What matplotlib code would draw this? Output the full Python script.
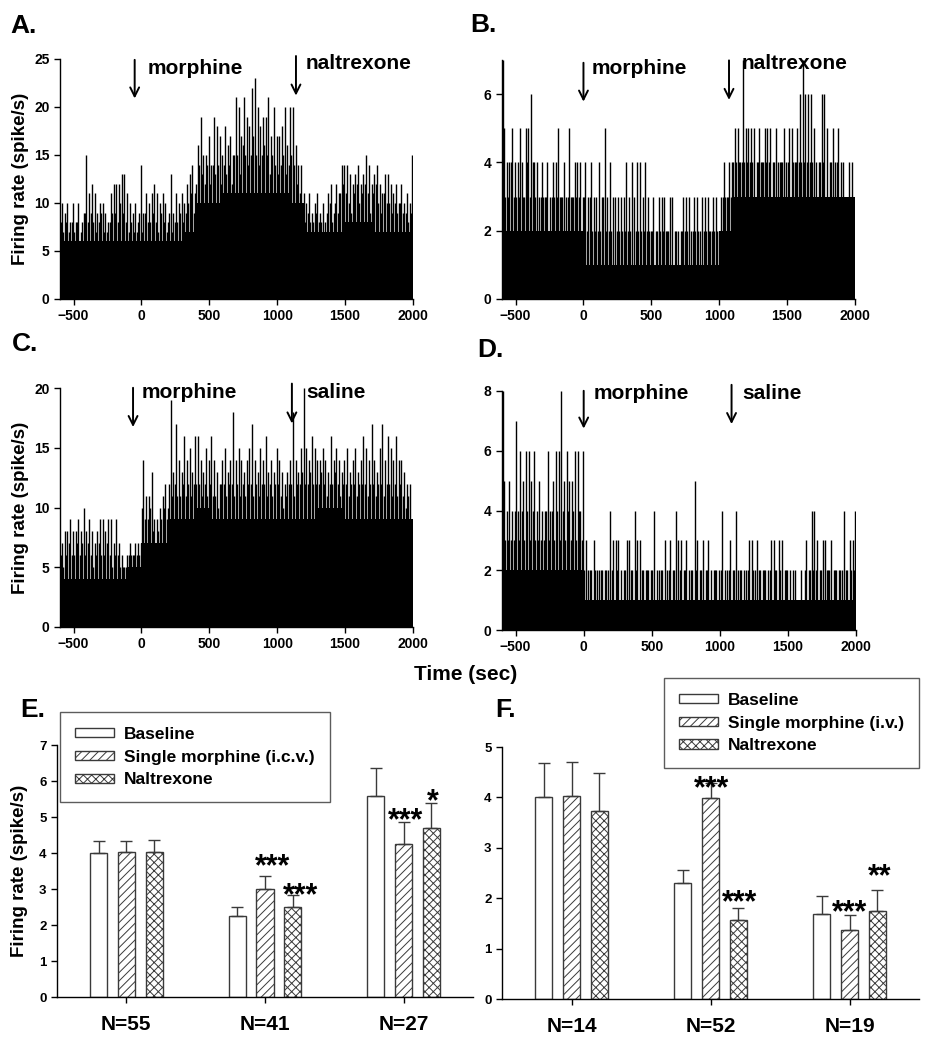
import matplotlib
matplotlib.use("Agg")
import matplotlib.pyplot as plt
import numpy as np

plt.rcParams['font.family'] = ['Liberation Sans', 'DejaVu Sans']
plt.rcParams['font.weight'] = 'bold'
plt.rcParams['axes.labelweight'] = 'bold'
plt.rcParams['hatch.linewidth'] = 0.7

# ---- histogram data (spike/s), -600..2000 s ----
edges = np.arange(-600, 2001, 100)       # 100 s blocks: solid (dense) level
t10 = np.arange(-600, 2000, 10) + 5      # 10 s bins: upper envelope

floor_A = [6, 6, 6, 6, 6, 6, 6, 6, 6, 7, 10, 10, 11, 11, 11, 11, 11, 10, 7, 7, 7, 8, 8, 7, 7, 7]
rate_A = [
    8, 10, 7, 9, 8, 10, 7, 8, 8, 10,
    7, 8, 8, 10, 6, 7, 8, 9, 9, 15,
    8, 11, 9, 12, 8, 11, 7, 9, 8, 10,
    9, 10, 7, 9, 7, 8, 8, 11, 9, 12,
    9, 12, 8, 12, 10, 13, 9, 13, 8, 11,
    7, 10, 8, 9, 7, 10, 7, 8, 9, 14,
    7, 9, 9, 11, 8, 10, 8, 11, 9, 12,
    8, 11, 7, 10, 9, 11, 8, 10, 7, 8,
    9, 13, 7, 9, 8, 11, 8, 10, 9, 11,
    8, 10, 9, 12, 10, 13, 11, 14, 9, 11,
    12, 16, 14, 19, 13, 15, 12, 15, 14, 17,
    12, 14, 14, 19, 13, 18, 14, 17, 12, 15,
    14, 18, 13, 16, 14, 17, 12, 15, 15, 21,
    15, 20, 13, 17, 16, 21, 15, 19, 14, 18,
    15, 22, 17, 23, 15, 20, 14, 18, 15, 19,
    16, 19, 15, 21, 13, 17, 15, 20, 14, 17,
    13, 17, 14, 18, 15, 20, 13, 16, 14, 20,
    15, 20, 14, 16, 12, 14, 11, 14, 9, 11,
    8, 10, 9, 11, 8, 9, 8, 10, 9, 11,
    8, 9, 8, 10, 7, 8, 9, 11, 10, 12,
    8, 9, 10, 12, 9, 11, 11, 14, 12, 14,
    11, 14, 10, 13, 9, 12, 11, 13, 12, 14,
    10, 12, 11, 13, 12, 15, 11, 14, 9, 12,
    11, 13, 12, 14, 10, 12, 9, 11, 11, 13,
    10, 13, 10, 12, 9, 11, 10, 12, 9, 10,
    10, 12, 9, 10, 9, 11, 8, 10, 9, 15]

floor_B = [2, 2, 2, 2, 2, 2, 1, 1, 1, 1, 1, 1, 1, 1, 1, 1, 2, 3, 3, 3, 3, 3, 3, 3, 3, 3]
rate_B = [
    7, 5, 3, 4, 3, 4, 4, 5, 3, 4,
    3, 4, 3, 5, 4, 3, 3, 5, 4, 5,
    3, 6, 4, 4, 3, 4, 2, 3, 3, 4,
    3, 3, 3, 4, 2, 3, 3, 4, 3, 4,
    3, 5, 3, 3, 3, 4, 2, 3, 3, 5,
    3, 3, 3, 4, 3, 4, 3, 4, 2, 3,
    3, 4, 2, 3, 3, 4, 2, 3, 2, 3,
    2, 4, 2, 3, 3, 5, 2, 3, 2, 4,
    2, 3, 1, 3, 2, 3, 2, 3, 2, 3,
    2, 4, 2, 3, 2, 4, 1, 3, 2, 4,
    2, 4, 2, 3, 2, 4, 2, 3, 2, 2,
    2, 3, 1, 2, 2, 3, 2, 3, 2, 3,
    2, 2, 2, 3, 1, 3, 1, 2, 2, 2,
    1, 2, 2, 3, 2, 3, 2, 3, 1, 2,
    2, 3, 2, 3, 2, 2, 1, 3, 2, 3,
    2, 3, 2, 2, 2, 3, 2, 3, 2, 2,
    2, 3, 3, 4, 3, 3, 3, 4, 3, 4,
    4, 5, 4, 5, 4, 4, 4, 7, 4, 5,
    4, 5, 4, 5, 4, 5, 3, 4, 4, 5,
    4, 4, 4, 5, 4, 5, 4, 5, 3, 4,
    4, 5, 3, 4, 4, 4, 4, 5, 3, 4,
    4, 5, 3, 5, 4, 4, 4, 5, 4, 6,
    4, 7, 4, 6, 4, 6, 4, 6, 4, 5,
    3, 4, 3, 4, 4, 6, 4, 6, 3, 5,
    3, 4, 4, 5, 3, 4, 4, 5, 3, 4,
    3, 4, 3, 3, 3, 4, 3, 4, 2, 2]

floor_C = [4, 4, 4, 4, 4, 5, 7, 7, 9, 9, 10, 9, 9, 9, 9, 9, 9, 9, 9, 10, 10, 9, 9, 9, 9, 9]
rate_C = [
    6, 7, 5, 8, 6, 8, 7, 9, 6, 8,
    6, 8, 7, 9, 6, 8, 7, 10, 6, 8,
    7, 9, 6, 8, 5, 7, 6, 8, 7, 9,
    6, 9, 6, 8, 7, 9, 6, 9, 5, 7,
    6, 9, 6, 7, 5, 6, 5, 5, 5, 6,
    6, 7, 6, 6, 6, 7, 6, 7, 6, 7,
    10, 14, 9, 11, 9, 11, 10, 13, 8, 9,
    7, 9, 8, 10, 9, 11, 10, 12, 9, 10,
    12, 19, 11, 13, 12, 17, 11, 14, 11, 13,
    12, 16, 11, 14, 12, 15, 11, 13, 12, 16,
    12, 16, 12, 14, 11, 13, 12, 15, 11, 14,
    12, 16, 11, 14, 11, 13, 10, 12, 12, 14,
    12, 15, 11, 13, 12, 14, 12, 18, 11, 14,
    12, 15, 11, 14, 12, 13, 11, 14, 12, 15,
    12, 17, 11, 14, 12, 13, 11, 15, 12, 14,
    12, 16, 11, 13, 12, 14, 11, 13, 12, 15,
    12, 14, 11, 13, 10, 12, 11, 13, 12, 14,
    12, 18, 11, 14, 12, 13, 12, 15, 13, 20,
    12, 15, 12, 14, 13, 16, 12, 15, 12, 14,
    12, 14, 13, 15, 12, 14, 11, 13, 12, 16,
    12, 14, 13, 15, 12, 14, 11, 13, 12, 14,
    12, 15, 11, 13, 12, 14, 12, 15, 11, 13,
    12, 14, 12, 16, 12, 15, 11, 14, 12, 17,
    12, 14, 11, 13, 12, 15, 12, 17, 11, 14,
    12, 16, 12, 15, 11, 14, 12, 16, 11, 14,
    12, 14, 11, 13, 10, 12, 11, 12, 9, 9]

floor_D = [2, 2, 2, 2, 2, 2, 1, 1, 1, 1, 1, 1, 1, 1, 1, 1, 1, 1, 1, 1, 1, 1, 1, 1, 1, 1]
rate_D = [
    8, 5, 3, 4, 3, 5, 3, 4, 3, 4,
    7, 4, 3, 6, 4, 5, 3, 6, 4, 6,
    3, 5, 4, 6, 3, 4, 3, 5, 3, 4,
    3, 4, 4, 6, 3, 4, 4, 5, 3, 6,
    4, 6, 3, 8, 4, 5, 3, 6, 4, 5,
    3, 5, 4, 6, 3, 6, 4, 4, 3, 6,
    2, 3, 1, 2, 2, 2, 1, 3, 2, 2,
    1, 2, 2, 2, 1, 2, 2, 2, 1, 4,
    2, 3, 1, 3, 2, 3, 1, 2, 1, 2,
    2, 3, 1, 3, 2, 2, 1, 4, 2, 3,
    1, 3, 2, 2, 1, 2, 2, 2, 1, 2,
    2, 4, 1, 2, 1, 2, 2, 2, 1, 3,
    1, 2, 2, 3, 1, 2, 2, 4, 1, 3,
    2, 3, 1, 2, 2, 3, 1, 2, 2, 2,
    1, 5, 2, 3, 1, 2, 2, 3, 1, 2,
    2, 3, 1, 2, 1, 2, 2, 2, 1, 2,
    2, 4, 1, 2, 1, 2, 2, 3, 1, 2,
    2, 4, 1, 2, 2, 2, 1, 2, 1, 2,
    2, 3, 1, 3, 2, 2, 1, 3, 2, 2,
    1, 2, 2, 2, 1, 2, 2, 3, 1, 3,
    2, 2, 1, 3, 2, 3, 1, 2, 2, 2,
    1, 2, 1, 2, 1, 2, 1, 1, 1, 2,
    1, 1, 2, 3, 1, 2, 2, 4, 2, 4,
    2, 3, 1, 2, 2, 3, 1, 3, 2, 2,
    2, 3, 1, 2, 2, 2, 1, 2, 2, 2,
    1, 4, 2, 2, 1, 3, 2, 3, 2, 4]

# ---- bar chart data ----
groups_E = ["N=55", "N=41", "N=27"]
base_E = [4.00, 2.24, 5.58]
morph_E = [4.02, 3.00, 4.24]
nal_E = [4.03, 2.50, 4.69]
base_E_sem = [0.32, 0.26, 0.77]
morph_E_sem = [0.30, 0.35, 0.61]
nal_E_sem = [0.32, 0.32, 0.69]

groups_F = ["N=14", "N=52", "N=19"]
base_F = [4.01, 2.30, 1.68]
morph_F = [4.02, 3.99, 1.36]
nal_F = [3.73, 1.57, 1.75]
base_F_sem = [0.67, 0.25, 0.36]
morph_F_sem = [0.68, 0.30, 0.31]
nal_F_sem = [0.75, 0.24, 0.42]

W, H = 939, 1050
fig = plt.figure(figsize=(W / 100, H / 100), dpi=100)


def px_axes(x0, y0, x1, y1):
    return fig.add_axes([x0 / W, 1 - y1 / H, (x1 - x0) / W, (y1 - y0) / H])


def style(ax):
    for s in ["top", "right"]:
        ax.spines[s].set_visible(False)
    for s in ["left", "bottom"]:
        ax.spines[s].set_linewidth(1.0)
    ax.tick_params(direction="out", length=4, width=1, labelsize=10)
    for lab in ax.get_xticklabels() + ax.get_yticklabels():
        lab.set_fontweight("bold")


def draw_hist(ax, floor, rate, ymax, yticks):
    ax.stairs(floor, edges, fill=True, color="black", linewidth=0)
    ax.vlines(t10, 0, rate, color="black", linewidth=1.0)
    ax.set_xlim(-600, 2000)
    ax.set_ylim(0, ymax)
    ax.set_xticks([-500, 0, 500, 1000, 1500, 2000])
    ax.set_yticks(yticks)
    style(ax)


def arrow(ax, x, y0, y1, label, lx, ly):
    ax.annotate("", xy=(x, y1), xytext=(x, y0), annotation_clip=False,
                arrowprops=dict(arrowstyle="->", lw=1.4, color="black", mutation_scale=16))
    ax.text(lx, ly, label, fontsize=15, fontweight="bold", va="center", ha="left")


axA = px_axes(60, 59, 413, 299)
draw_hist(axA, floor_A, rate_A, 25, [0, 5, 10, 15, 20, 25])
arrow(axA, -50, 25.2, 20.6, "morphine", 48, 24.0)
arrow(axA, 1138, 25.6, 20.9, "naltrexone", 1211, 24.5)

axB = px_axes(502, 60, 855, 299)
draw_hist(axB, floor_B, rate_B, 7, [0, 2, 4, 6])
arrow(axB, 0, 7.0, 5.7, "morphine", 63, 6.75)
arrow(axB, 1072, 7.07, 5.75, "naltrexone", 1167, 6.9)

axC = px_axes(60, 388, 413, 627)
draw_hist(axC, floor_C, rate_C, 20, [0, 5, 10, 15, 20])
arrow(axC, -62, 20.25, 16.5, "morphine", 4, 19.6)
arrow(axC, 1108, 20.6, 16.8, "saline", 1211, 19.6)

axD = px_axes(502, 391, 856, 630)
draw_hist(axD, floor_D, rate_D, 8, [0, 2, 4, 6, 8])
arrow(axD, 0, 8.1, 6.65, "morphine", 70, 7.9)
arrow(axD, 1086, 8.3, 6.8, "saline", 1167, 7.9)

for ax in (axA, axC):
    ax.set_ylabel("Firing rate (spike/s)", fontsize=13.5, fontweight="bold", labelpad=4)

fig.text(466 / W, 1 - 675 / H, "Time (sec)", fontsize=15, fontweight="bold",
         ha="center", va="center")


def draw_bars(ax, base, morph, nal, bsem, msem, nsem, groups, ymax, legend_label, legend_anchor, legend_loc):
    x = np.arange(1, 4)
    off, bw = 0.2, 0.123
    ec = "#3a3a3a"
    eb = dict(ecolor=ec, elinewidth=1.0, capsize=4, capthick=1.0)
    zeros = [0, 0, 0]
    b1 = ax.bar(x - off, base, bw, color="white", edgecolor=ec, linewidth=1.0,
                yerr=[zeros, bsem], error_kw=eb, label="Baseline")
    b2 = ax.bar(x, morph, bw, color="white", edgecolor=ec, linewidth=1.0, hatch="////",
                yerr=[zeros, msem], error_kw=eb, label=legend_label)
    b3 = ax.bar(x + off, nal, bw, color="white", edgecolor=ec, linewidth=1.0, hatch="xxxx",
                yerr=[zeros, nsem], error_kw=eb, label="Naltrexone")
    ax.set_xlim(0.5, 3.5)
    ax.set_ylim(0, ymax)
    ax.set_xticks(x)
    ax.set_xticklabels(groups)
    ax.set_yticks(range(0, ymax + 1))
    style(ax)
    ax.tick_params(axis="y", labelsize=9.5)
    ax.tick_params(axis="x", labelsize=15, pad=9)
    leg = ax.legend(handles=[b1, b2, b3], loc=legend_loc, bbox_to_anchor=legend_anchor,
                    fontsize=12.5, frameon=True, fancybox=False, borderaxespad=0,
                    handlelength=2.25, handleheight=0.45, handletextpad=0.6,
                    labelspacing=0.45, borderpad=0.85)
    leg.get_frame().set_edgecolor("#333333")
    leg.get_frame().set_linewidth(1.0)
    for t in leg.get_texts():
        t.set_fontweight("bold")


def stars(ax, x, y, s):
    ax.annotate(s, xy=(x, y), xytext=(0, -12.5), textcoords="offset points",
                ha="center", va="baseline", fontsize=22, fontweight="bold")


axE = px_axes(57, 745, 473, 997)
draw_bars(axE, base_E, morph_E, nal_E, base_E_sem, morph_E_sem, nal_E_sem, groups_E, 7,
          "Single morphine (i.c.v.)", (0.007, 1.131), "upper left")
axE.set_ylabel("Firing rate (spike/s)", fontsize=13.5, fontweight="bold", labelpad=8)
stars(axE, 2.054, 3.86, "***")
stars(axE, 2.259, 3.06, "***")
stars(axE, 3.016, 5.14, "***")
stars(axE, 3.211, 5.67, "*")

axF = px_axes(502, 747, 919, 999)
draw_bars(axF, base_F, morph_F, nal_F, base_F_sem, morph_F_sem, nal_F_sem, groups_F, 5,
          "Single morphine (i.v.)", (1.0, 1.274), "upper right")
stars(axF, 2.009, 4.35, "***")
stars(axF, 2.212, 2.08, "***")
stars(axF, 3.004, 1.88, "***")
stars(axF, 3.214, 2.60, "**")

for lab, x, y in [("A.", 10, 26), ("B.", 470, 25), ("C.", 12, 344),
                  ("D.", 477, 350), ("E.", 20, 710), ("F.", 495, 710)]:
    fig.text(x / W, 1 - y / H, lab, fontsize=19, fontweight="bold", ha="left", va="center")

fig.savefig("out.png", dpi=100)
